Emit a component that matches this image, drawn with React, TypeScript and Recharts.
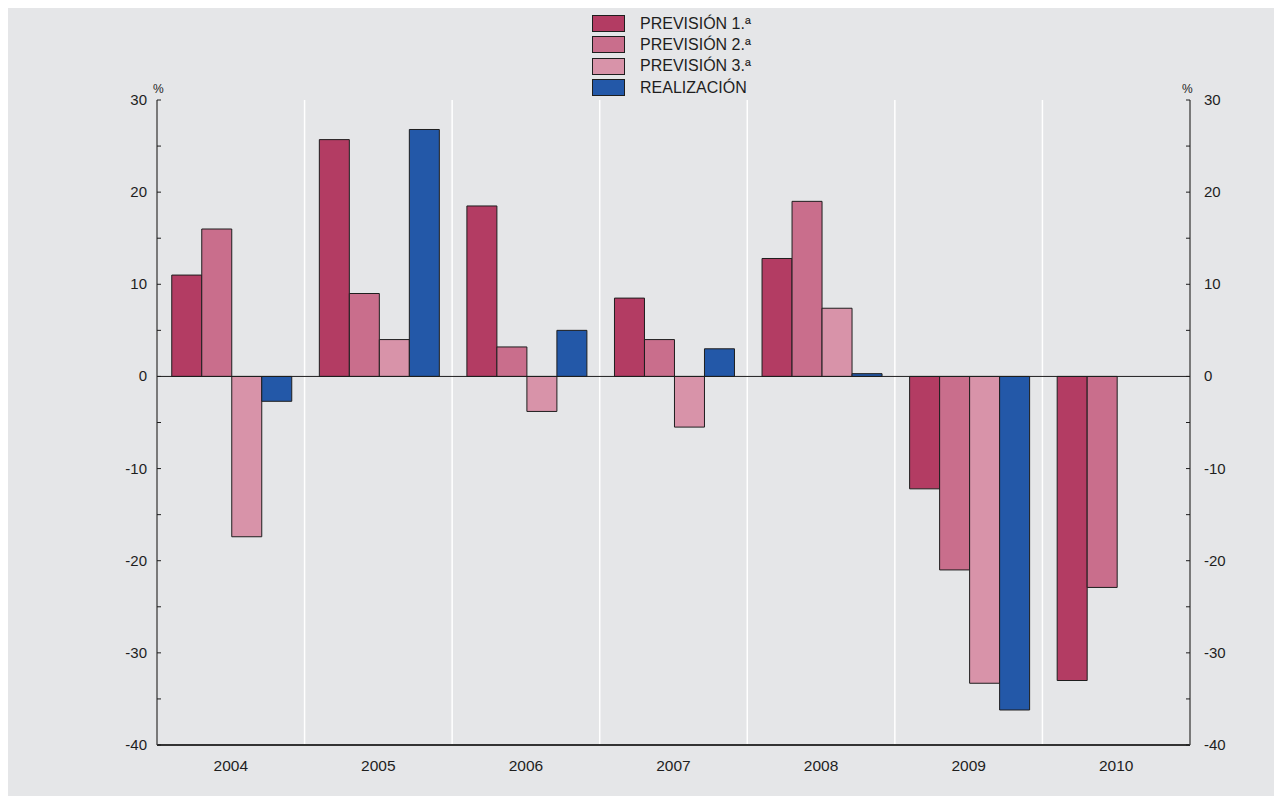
import {
  Bar,
  BarChart,
  CartesianGrid,
  ReferenceLine,
  XAxis,
  YAxis,
} from 'recharts';

const years = ['2004', '2005', '2006', '2007', '2008', '2009', '2010'];
const prevision1 = [11, 25.7, 18.5, 8.5, 12.8, -12.2, -33];
const prevision2 = [16, 9, 3.2, 4, 19, -21, -22.9];
const prevision3 = [-17.4, 4, -3.8, -5.5, 7.4, -33.3, null];
const realizacion = [-2.7, 26.8, 5, 3, 0.3, -36.2, null];
const yTicks = [-40, -35, -30, -25, -20, -15, -10, -5, 0, 5, 10, 15, 20, 25, 30];
const gridValues = [-30, -20, -10, 0, 10, 20, 30];

const series = [
  { key: 'p1', name: 'PREVISIÓN 1.ª', color: '#b33c63' },
  { key: 'p2', name: 'PREVISIÓN 2.ª', color: '#c96e8c' },
  { key: 'p3', name: 'PREVISIÓN 3.ª', color: '#d893a9' },
  { key: 'r', name: 'REALIZACIÓN', color: '#2358a8' },
];

const data = years.map((y, i) => ({
  year: y,
  p1: prevision1[i],
  p2: prevision2[i],
  p3: prevision3[i],
  r: realizacion[i],
}));

const BG = '#e5e6e8';
const INK = '#1e1e1e';
const AXIS = '#555555';
const FONT = '"Liberation Sans", Arial, Helvetica, sans-serif';

const W = 1274;
const H = 788;

function LeftTick({ x, y, payload }: any) {
  const v = payload.value as number;
  return (
    <g>
      <line x1={x} y1={y} x2={x + 4} y2={y} stroke={INK} strokeWidth={1} />
      {v % 10 === 0 && (
        <text x={x - 10} y={y} dy={5} textAnchor="end" fontSize={15} fill={INK} fontFamily={FONT}>
          {v}
        </text>
      )}
    </g>
  );
}

function RightTick({ x, y, payload }: any) {
  const v = payload.value as number;
  return (
    <g>
      <line x1={x - 4} y1={y} x2={x} y2={y} stroke={INK} strokeWidth={1} />
      {v % 10 === 0 && (
        <text x={x + 14} y={y} dy={5} textAnchor="start" fontSize={15} fill={INK} fontFamily={FONT}>
          {v}
        </text>
      )}
    </g>
  );
}

function YearTick({ x, y, payload }: any) {
  return (
    <text x={x} y={y} dy={18} textAnchor="middle" fontSize={15.5} fill={INK} fontFamily={FONT}>
      {payload.value}
    </text>
  );
}

function LegendBox() {
  return (
    <div style={{ position: 'absolute', left: 584, top: 5, fontFamily: FONT }}>
      {series.map((s) => (
        <div key={s.key} style={{ display: 'flex', alignItems: 'center', height: 21.3 }}>
          <div
            style={{
              width: 31,
              height: 15,
              background: s.color,
              border: `1px solid ${INK}`,
            }}
          />
          <span style={{ marginLeft: 15, fontSize: 16, color: INK }}>{s.name}</span>
        </div>
      ))}
    </div>
  );
}

export default function App() {
  return (
    <div style={{ position: 'relative', width: W, height: H, background: BG }}>
      <LegendBox />
      <span
        style={{ position: 'absolute', left: 145, top: 74, fontSize: 12, color: INK, fontFamily: FONT }}
      >
        %
      </span>
      <span
        style={{ position: 'absolute', left: 1174, top: 74, fontSize: 12, color: INK, fontFamily: FONT }}
      >
        %
      </span>
      <BarChart
        width={W}
        height={H}
        data={data}
        margin={{ top: 92, right: 0, left: 0, bottom: 21 }}
        barCategoryGap="10%"
        barGap={0}
      >
        <CartesianGrid
          stroke="#ffffff"
          strokeWidth={1.5}
          horizontalValues={gridValues}
          verticalCoordinatesGenerator={({ offset }: any) =>
            years.slice(1).map((_, i) => offset.left + ((i + 1) * offset.width) / years.length)
          }
        />
        <XAxis
          dataKey="year"
          height={30}
          tick={<YearTick />}
          tickLine={false}
          axisLine={{ stroke: '#333333', strokeWidth: 2 }}
        />
        <YAxis
          yAxisId="left"
          orientation="left"
          width={149}
          domain={[-40, 30]}
          allowDataOverflow
          ticks={yTicks}
          interval={0}
          tickSize={0}
          tickMargin={0}
          tickLine={false}
          tick={<LeftTick />}
          axisLine={{ stroke: AXIS, strokeWidth: 1.5 }}
        />
        <YAxis
          yAxisId="right"
          orientation="right"
          width={92}
          domain={[-40, 30]}
          allowDataOverflow
          ticks={yTicks}
          interval={0}
          tickSize={0}
          tickMargin={0}
          tickLine={false}
          tick={<RightTick />}
          axisLine={{ stroke: AXIS, strokeWidth: 1.5 }}
        />
        <ReferenceLine yAxisId="left" y={0} stroke={INK} strokeWidth={1} />
        <ReferenceLine yAxisId="right" y={0} stroke="none" />
        {series.map((s) => (
          <Bar
            key={s.key}
            yAxisId="left"
            dataKey={s.key}
            name={s.name}
            fill={s.color}
            stroke={INK}
            strokeWidth={1}
            isAnimationActive={false}
          />
        ))}
      </BarChart>
    </div>
  );
}
